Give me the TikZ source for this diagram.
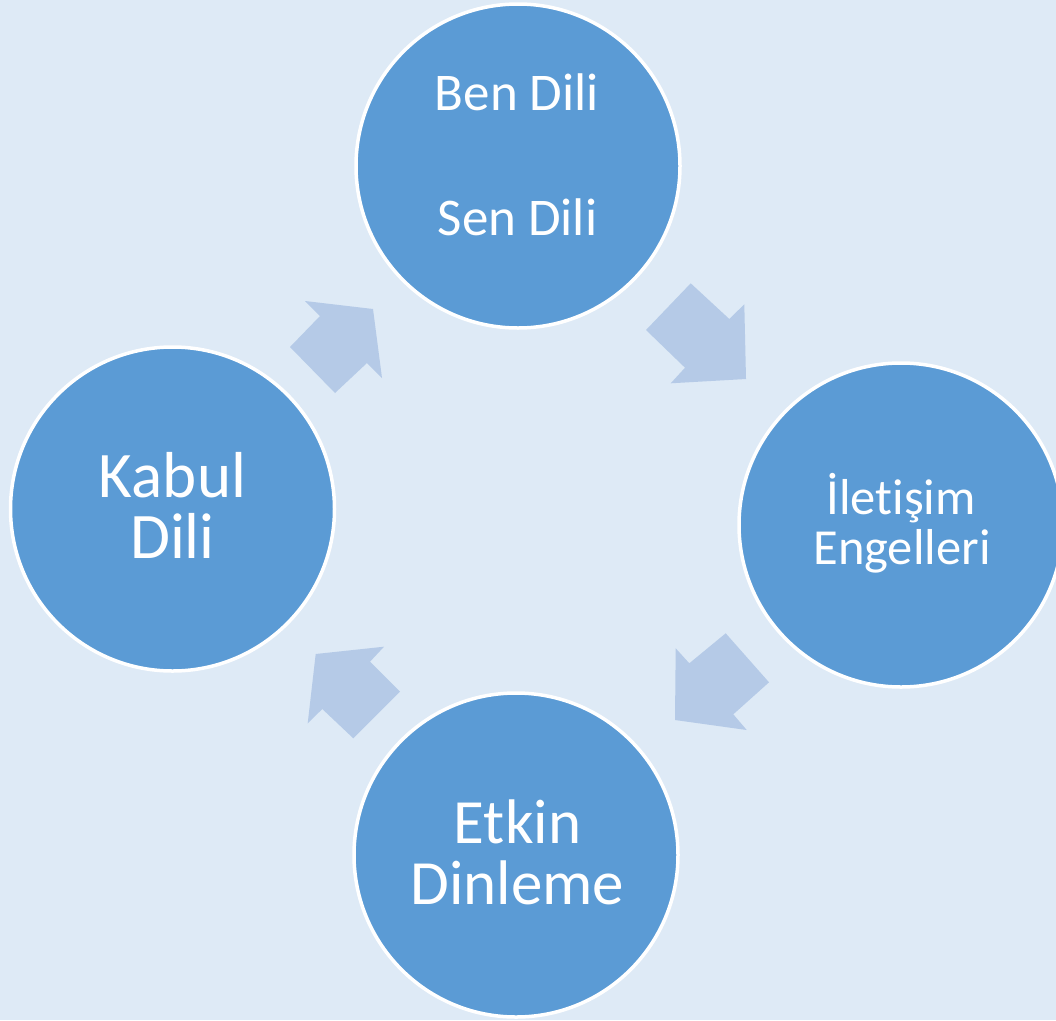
\documentclass[tikz,border=0pt]{standalone}
\usepackage{fontspec}
\setmainfont{Carlito}[Ligatures=NoCommon]
\definecolor{bgc}{HTML}{DEEAF6}
\definecolor{circc}{HTML}{5B9BD5}
\definecolor{arrc}{HTML}{B5CAE7}
\begin{document}
\begin{tikzpicture}[x=1pt,y=-1pt,
  cyc/.style={circle,fill=circc,draw=white,line width=3.5pt,minimum size=324pt,inner sep=0pt},
  lbl/.style={anchor=base,text=white,inner sep=0pt},
  blockarrow/.style={fill=arrc,draw=none}]
\useasboundingbox (0,0) rectangle (1056,1020);
\clip (0,0) rectangle (1056,1020);
\fill[bgc] (0,0) rectangle (1056,1020);
% circles
\node[cyc] (top) at (518,166) {};
\node[cyc] (right) at (901,525) {};
\node[cyc] (bottom) at (516,855) {};
\node[cyc] (left) at (172.5,509) {};
% labels
\node[lbl,font=\fontsize{53}{60}\selectfont] (t1) at (517,110) {Ben Dili};
\node[lbl,font=\fontsize{53}{60}\selectfont] (t2) at (517.5,235) {Sen Dili};
\node[lbl,font=\fontsize{50.5}{56}\selectfont] (r1) at (901,514) {İletişim};
\node[lbl,font=\fontsize{50.5}{56}\selectfont] (r2) at (902,564) {Engelleri};
\node[lbl,font=\fontsize{63}{70}\selectfont] (b1) at (517.5,843) {Etkin};
\node[lbl,font=\fontsize{63}{70}\selectfont] (b2) at (517.5,904) {Dinleme};
\node[lbl,font=\fontsize{65}{70}\selectfont] (l1) at (172.5,497) {Kabul};
\node[lbl,font=\fontsize{65}{70}\selectfont] (l2) at (172.5,558) {Dili};
% block arrows
\fill[blockarrow] (373,309) -- (382,378) -- (367,363) -- (335,393) -- (290,347) -- (320,316) -- (305,301) -- cycle;
\fill[blockarrow] (690.7,283.3) -- (729.3,319) -- (744.3,304.3) -- (746,379) -- (670.7,383.3) -- (685,367.7) -- (646,330) -- cycle;
\fill[blockarrow] (725.7,633.3) -- (769,682.3) -- (733.3,714.3) -- (746.7,730) -- (675,720) -- (675.7,648.3) -- (689.3,663.3) -- cycle;
\fill[blockarrow] (315.7,654) -- (384,646.7) -- (370,661.7) -- (400,691.7) -- (353.3,738.3) -- (322.3,709) -- (307.7,723.3) -- cycle;
\end{tikzpicture}
\end{document}
